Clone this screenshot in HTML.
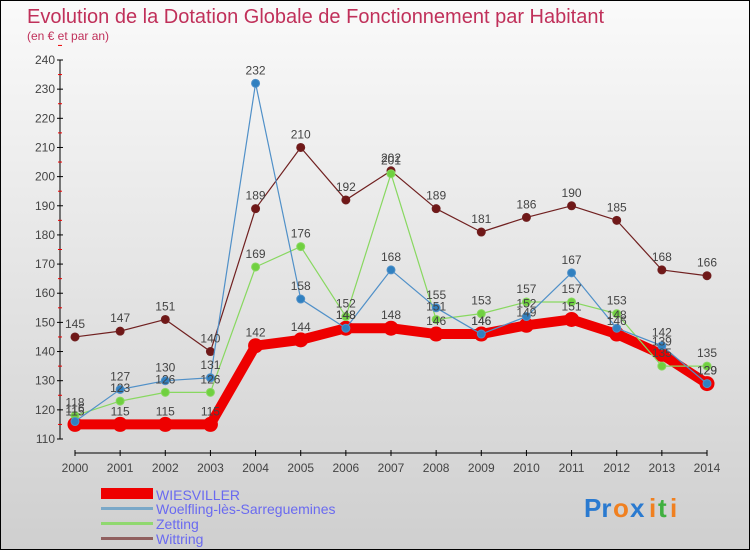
<!DOCTYPE html>
<html><head><meta charset="utf-8"><style>
html,body{margin:0;padding:0}
body{width:750px;height:550px;overflow:hidden;font-family:"Liberation Sans",sans-serif}
#wrap{position:relative;width:748px;height:548px;border:1px solid #000;background:linear-gradient(#fafafa,#cfcfcf)}
</style></head><body>
<div id="wrap">
<svg id="chart" width="748" height="548">
<text x="26" y="22" font-size="20" fill="#c0305a">Evolution de la Dotation Globale de Fonctionnement par Habitant</text>
<text x="26" y="39" font-size="12" fill="#c0305a">(en € et par an)</text>
<g id="axes"></g><g id="series"></g><g id="labels"></g>
<g>
<rect x="100" y="487" width="52" height="11" fill="#e00"/>
<text x="155" y="499" font-size="14" fill="#6a6af0">WIESVILLER</text>
<rect x="100" y="506" width="52" height="3" fill="#7aa8c8"/>
<text x="155" y="513" font-size="14" fill="#6a6af0">Woelfling-lès-Sarreguemines</text>
<rect x="100" y="521" width="52" height="3" fill="#90d870"/>
<text x="155" y="528" font-size="14" fill="#6a6af0">Zetting</text>
<rect x="100" y="536" width="52" height="3" fill="#906060"/>
<text x="155" y="543" font-size="14" fill="#6a6af0">Wittring</text>
</g>
<g font-size="26" font-weight="bold">
<text x="583" y="516" fill="#2a7ad0">Pr</text><text x="612" y="516" fill="#f08020">o</text><text x="629" y="516" fill="#2a7ad0">x</text><text x="648" y="516" fill="#f08020">i</text><text x="657" y="516" fill="#40b040">t</text><text x="669" y="516" fill="#f08020">i</text>
</g>
</svg>
</div>
<script>
const years=[2000,2001,2002,2003,2004,2005,2006,2007,2008,2009,2010,2011,2012,2013,2014];
const yTicks=[110,120,130,140,150,160,170,180,190,200,210,220,230,240];
const wiesviller=[115,115,115,115,142,144,148,148,146,146,149,151,146,139,129];
const woelfling=[116,127,130,131,232,158,148,168,155,146,152,167,148,142,129];
const zetting=[118,123,126,126,169,176,152,201,151,153,157,157,153,135,135];
const wittring=[145,147,151,140,189,210,192,202,189,181,186,190,185,168,166];
const NS="http://www.w3.org/2000/svg";
const x=i=>74+i*(632/14);
const y=v=>438-(v-110)*(379/130);
function mk(t,a,p){const e=document.createElementNS(NS,t);for(const k in a)e.setAttribute(k,a[k]);p.appendChild(e);return e;}
const ax=document.getElementById('axes');
mk('line',{x1:59,y1:y(110),x2:59,y2:y(240),stroke:'#000'},ax);
mk('line',{x1:74,y1:y(110)+14,x2:x(14),y2:y(110)+14,stroke:'#000'},ax);
yTicks.forEach(v=>{
 mk('line',{x1:56,y1:y(v),x2:62,y2:y(v),stroke:'#000'},ax);
 mk('line',{x1:57,y1:y(v+5),x2:61,y2:y(v+5),stroke:'#e00'},ax);
 const t=mk('text',{x:54,y:y(v)+4,'font-size':12,'text-anchor':'end',fill:'#444'},ax);
 
 
 t.textContent=v;
});
years.forEach((yr,i)=>{
 mk('line',{x1:x(i),y1:y(110)+11,x2:x(i),y2:y(110)+17,stroke:'#000'},ax);
 const t=mk('text',{x:x(i),y:y(110)+33,'font-size':12,'text-anchor':'middle',fill:'#444'},ax);
 
 
 t.textContent=yr;
});
const sg=document.getElementById('series'),lg=document.getElementById('labels');
function draw(data,name,color,w,r,fill){
 const pl=mk('polyline',{points:data.map((v,i)=>x(i)+','+y(v)).join(' '),fill:'none',stroke:color,'stroke-width':w,'stroke-linejoin':'round'},sg);
 
 
 data.forEach((v,i)=>{
  const c=mk('circle',{cx:x(i),cy:y(v),r:r,fill:fill,stroke:color,'stroke-width':1},sg);
  
  
  const t=mk('text',{x:x(i),y:y(v)-9,'font-size':12,'text-anchor':'middle',fill:'#444'},lg);
  
  
  t.textContent=v;
 });
}
draw(wiesviller,'wiesviller','#e00',10,7,'#e00');
draw(wittring,'wittring','#702020',1.2,4,'#701818');
draw(zetting,'zetting','#88d860',1.2,4,'#70d040');
draw(woelfling,'woelfling','#5090c8',1.2,4,'#3080c0');
</script>
</body></html>
